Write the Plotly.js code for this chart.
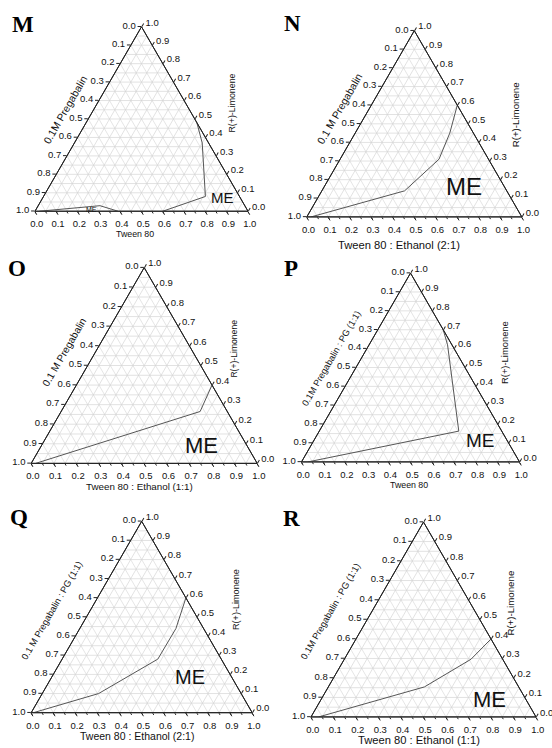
<!DOCTYPE html>
<html>
<head>
<meta charset="utf-8">
<script src="https://cdn.plot.ly/plotly-3.0.1.min.js"></script>
<style>html,body{margin:0;padding:0;background:#fff;}#chart{width:552px;height:748px;}</style>
</head>
<body>
<div id="chart"></div>
<script>
// Grid / minor tick positions (every 0.05)
const gridValues = [0, 0.05, 0.1, 0.15, 0.2, 0.25, 0.3, 0.35, 0.4, 0.45, 0.5, 0.55, 0.6, 0.65, 0.7, 0.75, 0.8, 0.85, 0.9, 0.95, 1];
// Major tick positions and their labels (each edge is read Origin-style)
const tickValues = [0, 0.1, 0.2, 0.3, 0.4, 0.5, 0.6, 0.7, 0.8, 0.9, 1];
const tickLabels = ['1.0', '0.9', '0.8', '0.7', '0.6', '0.5', '0.4', '0.3', '0.2', '0.1', '0.0'];

// Phase-boundary points: limonene (top vertex) and surfactant mix (bottom-right vertex); aqueous phase is the remainder
const M_limonene = [0.48, 0.37, 0.08, 0.0];
const M_tween = [0.52, 0.60, 0.76, 0.60];
const M2_limonene = [0.0, 0.03, 0.0];
const M2_tween = [0.02, 0.29, 0.39];
const N_limonene = [0.0, 0.14, 0.31, 0.45, 0.60];
const N_tween = [0.02, 0.385, 0.46, 0.44, 0.40];
const O_limonene = [0.0, 0.265, 0.40];
const O_tween = [0.02, 0.615, 0.60];
const P_limonene = [0.0, 0.163, 0.62, 0.70];
const P_tween = [0.03, 0.64, 0.36, 0.30];
const Q_limonene = [0.0, 0.10, 0.28, 0.44, 0.60];
const Q_tween = [0.01, 0.255, 0.433, 0.435, 0.40];
const R_limonene = [0.0, 0.154, 0.296, 0.40];
const R_tween = [0.034, 0.427, 0.563, 0.60];

const panelLetters = ['M', 'N', 'O', 'P', 'Q', 'R'];
const leftTitles = ['0.1M Pregabalin', '0.1 M Pregabalin', '0.1 M Pregabalin', '0.1M Pregabalin : PG (1:1)', '0.1 M Pregabalin : PG (1:1)', '0.1M Pregabalin : PG (1:1)'];
const bottomTitles = ['Tween 80', 'Tween 80 : Ethanol (2:1)', 'Tween 80 : Ethanol (1:1)', 'Tween 80', 'Tween 80 : Ethanol (2:1)', 'Tween 80 : Ethanol (1:1)'];
const rightTitle = 'R(+)-Limonene';
const regionLabel = 'ME';

const W = 552, H = 748;
const FONT = 'Liberation Sans, Arial, sans-serif';

// panel geometry: triangle centre (px) and width (px)
const panels = [
  {cx: 141.5, cy: 119.0, w: 213},
  {cx: 414.3, cy: 123.8, w: 215},
  {cx: 144.2, cy: 365.5, w: 226},
  {cx: 410.5, cy: 367.5, w: 218},
  {cx: 141.7, cy: 617.0, w: 221},
  {cx: 423.5, cy: 619.5, w: 225}
];

function dom(p) {
  const h = p.w * Math.sqrt(3) / 2;
  return {
    x: [(p.cx - p.w / 2) / W, (p.cx + p.w / 2) / W],
    y: [1 - (p.cy + h / 2) / H, 1 - (p.cy - h / 2) / H]
  };
}
function gridAxis(minorTicks) {
  return {
    tickmode: 'array', tickvals: gridValues, showticklabels: false,
    ticks: minorTicks ? 'outside' : '', ticklen: 2, tickwidth: 1, tickcolor: '#222',
    showline: true, linecolor: '#222', linewidth: 1,
    showgrid: true, gridcolor: '#d4d4d4', gridwidth: 0.6,
    title: {text: ''}, min: 0
  };
}
function labelAxis() {
  return {
    tickmode: 'array', tickvals: tickValues, ticktext: tickLabels,
    ticks: 'outside', ticklen: 3.5, tickwidth: 1, tickcolor: '#222',
    showline: true, linecolor: '#222', linewidth: 1, showgrid: false,
    tickfont: {family: FONT, size: 9.5, color: '#111'},
    title: {text: ''}, min: 0
  };
}

const layout = {
  width: W, height: H,
  margin: {l: 0, r: 0, t: 0, b: 0},
  paper_bgcolor: '#fff',
  showlegend: false,
  annotations: []
};
// grid ternaries: 1..6, label ternaries (transparent, on top): 7..12
panels.forEach((p, i) => {
  const gKey = i === 0 ? 'ternary' : 'ternary' + (i + 1);
  layout[gKey] = {domain: dom(p), sum: 1, bgcolor: '#fff',
    aaxis: gridAxis(false), baxis: gridAxis(true), caxis: gridAxis(false)};
  layout['ternary' + (i + 7)] = {domain: dom(p), sum: 1, bgcolor: 'rgba(0,0,0,0)',
    aaxis: labelAxis(), baxis: labelAxis(), caxis: labelAxis()};
});

const lineStyle = {color: '#555', width: 1};
const series = [
  [M_limonene, M_tween, 'ternary7'],
  [M2_limonene, M2_tween, 'ternary7'],
  [N_limonene, N_tween, 'ternary8'],
  [O_limonene, O_tween, 'ternary9'],
  [P_limonene, P_tween, 'ternary10'],
  [Q_limonene, Q_tween, 'ternary11'],
  [R_limonene, R_tween, 'ternary12']
];
const data = series.map(s => ({
  type: 'scatterternary', mode: 'lines', a: s[0], c: s[1], subplot: s[2],
  line: lineStyle, hoverinfo: 'skip'
}));
// empty traces so the grid ternaries are drawn
panels.forEach((p, i) => {
  data.unshift({type: 'scatterternary', mode: 'lines', a: [], c: [], subplot: i === 0 ? 'ternary' : 'ternary' + (i + 1), hoverinfo: 'skip'});
});

function ann(x, y, text, size, extra) {
  return Object.assign({xref: 'paper', yref: 'paper', x: x / W, y: 1 - y / H, text: text,
    showarrow: false, xanchor: 'center', yanchor: 'middle',
    font: {family: FONT, size: size, color: '#111'}}, extra || {});
}
const letterPos = [[23, 24], [292, 23], [16.5, 268.5], [291, 268.5], [18.5, 517], [291.5, 518.5]];
const leftPos = [[65.7, 109.5], [340.1, 108.5], [64.1, 352.5], [330.7, 358.5], [52.4, 610.2], [330.1, 611.8]];
const rightPos = [[231, 103.5], [515.3, 115], [234.3, 348.3], [504.7, 352.3], [236, 600], [510.3, 603.3]];
const bottomPos = [[135, 234], [398.7, 244.5], [139.3, 486], [409.3, 485], [136.7, 736], [419.3, 740]];
const mePos = [[222.7, 197.3], [464.3, 186.7], [201.7, 445], [480, 440], [190.3, 677.3], [489.3, 699.3]];
const meSize = [15, 24, 22, 19, 20, 22];
const leftSize = [10.5, 10.5, 10.2, 9.1, 9.2, 9.2];
const rightSize = [8.8, 9.7, 8.6, 9.4, 9.1, 9.7];
const bottomSize = [8.8, 11.2, 9.8, 8.8, 10.5, 11.2];

panels.forEach((p, i) => {
  layout.annotations.push(ann(letterPos[i][0], letterPos[i][1], '<b>' + panelLetters[i] + '</b>', 23,
    {font: {family: 'Liberation Serif, Times New Roman, serif', size: 23, color: '#000'}}));
  layout.annotations.push(ann(leftPos[i][0], leftPos[i][1], leftTitles[i], leftSize[i], {textangle: -60}));
  layout.annotations.push(ann(rightPos[i][0], rightPos[i][1], rightTitle, rightSize[i], {textangle: -90}));
  layout.annotations.push(ann(bottomPos[i][0], bottomPos[i][1], bottomTitles[i], bottomSize[i]));
  layout.annotations.push(ann(mePos[i][0], mePos[i][1], regionLabel, meSize[i]));
});
layout.annotations.push(ann(91.7, 209.5, regionLabel, 7));

Plotly.newPlot('chart', data, layout, {displayModeBar: false, staticPlot: true});
</script>
</body>
</html>
